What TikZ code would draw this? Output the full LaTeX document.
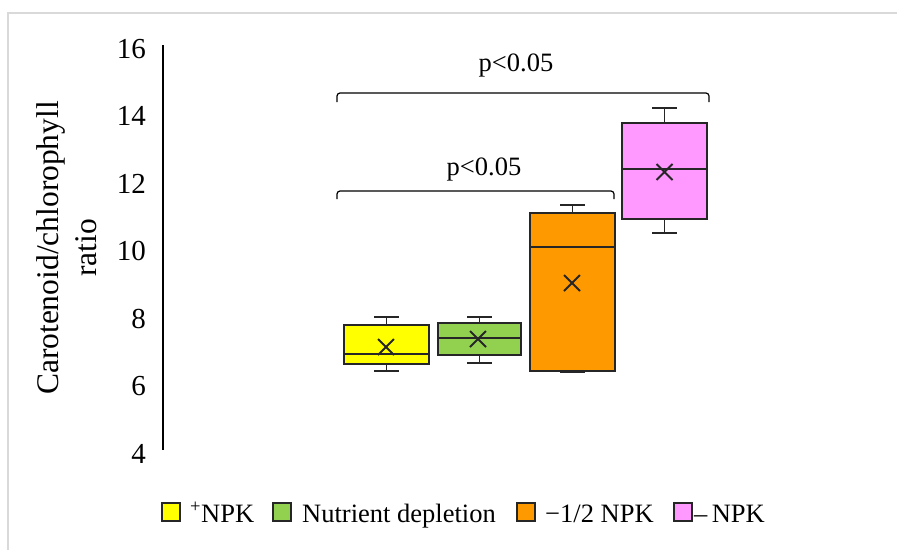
\documentclass[tikz,border=0pt]{standalone}
\usepackage{fontspec}
\setmainfont{Liberation Serif}
\definecolor{cyel}{HTML}{FFFF00}
\definecolor{cgrn}{HTML}{92D050}
\definecolor{corg}{HTML}{FF9900}
\definecolor{cpnk}{HTML}{FF99FF}
\definecolor{edge}{HTML}{262626}
\definecolor{frame}{HTML}{D9D9D9}
\begin{document}
\begin{tikzpicture}[x=1pt,y=-1pt,
  boxst/.style={draw=edge,line width=1.8pt},
  whisk/.style={draw=edge,line width=1.8pt},
  meanx/.style={draw=edge,line width=2pt},
  tick/.style={anchor=base east,inner sep=0pt,font=\fontsize{29}{34}\selectfont},
  pval/.style={anchor=base,inner sep=0pt,font=\fontsize{26.5}{31}\selectfont},
  legtxt/.style={anchor=base west,inner sep=0pt,font=\fontsize{26.5}{31}\selectfont},
  legsq/.style={draw=edge,line width=1.6pt,minimum width=18pt,minimum height=18pt,inner sep=0pt},
  brk/.style={draw=black,line width=1.2pt,rounded corners=3pt}]
\useasboundingbox (0,0) rectangle (897,550);
\fill[white] (0,0) rectangle (897,550);
\draw[frame,line width=1.5pt] (8,550) -- (8,13) -- (897,13);
% axis
\draw[black,line width=1.6pt] (163,45) -- (163,450);
\node[tick] (t16) at (146,58) {16};
\node[tick] (t14) at (146,125.5) {14};
\node[tick] (t12) at (146,193) {12};
\node[tick] (t10) at (146,260.5) {10};
\node[tick] (t8) at (146,328) {8};
\node[tick] (t6) at (146,395.5) {6};
\node[tick] (t4) at (146,463) {4};
\node[rotate=90,align=center,inner sep=0pt,font=\fontsize{31.5}{38}\selectfont] (ylab) at (67,248) {Carotenoid/chlorophyll\\ratio};
% yellow box
\draw[whisk] (386.5,325) -- (386.5,317) (374,317) -- (399,317);
\draw[whisk] (386.5,364) -- (386.5,371) (374,371) -- (399,371);
\draw[boxst,fill=cyel] (344,325) rectangle (429,364);
\draw[boxst] (344,354) -- (429,354);
\draw[meanx] (378,339) -- (394,355) (378,355) -- (394,339);
% green box
\draw[whisk] (479.5,323) -- (479.5,317) (467,317) -- (492,317);
\draw[whisk] (479.5,355) -- (479.5,363) (467,363) -- (492,363);
\draw[boxst,fill=cgrn] (438,323) rectangle (521,355);
\draw[boxst] (438,338) -- (521,338);
\draw[meanx] (470,331) -- (486,347) (470,347) -- (486,331);
% orange box
\draw[whisk] (572.5,213) -- (572.5,205) (560,205) -- (585,205);
\draw[whisk,line width=2.6pt] (560,371.5) -- (585,371.5);
\draw[boxst,fill=corg] (530,213) rectangle (615,371);
\draw[boxst] (530,247) -- (615,247);
\draw[meanx] (564,275) -- (580,291) (564,291) -- (580,275);
% pink box
\draw[whisk] (664.5,123) -- (664.5,108) (652,108) -- (677,108);
\draw[whisk] (664.5,219) -- (664.5,233) (652,233) -- (677,233);
\draw[boxst,fill=cpnk] (622,123) rectangle (707,219);
\draw[boxst] (622,169) -- (707,169);
\draw[meanx] (656.5,164) -- (672.5,180) (656.5,180) -- (672.5,164);
% brackets
\coordinate (b1a) at (337,102); \coordinate (b1b) at (709,102);
\draw[brk] (b1a) -- (337,93) -- (709,93) -- (b1b);
\coordinate (b2a) at (337,199); \coordinate (b2b) at (614,199);
\draw[brk] (b2a) -- (337,191) -- (614,191) -- (b2b);
\node[pval] (p1) at (516,71) {p<0.05};
\node[pval] (p2) at (484,175) {p<0.05};
% legend
\node[legsq,fill=cyel,anchor=south west] (l1) at (161,522) {};
\node[legtxt] (lt1) at (190,522) {\textsuperscript{+}NPK};
\node[legsq,fill=cgrn,anchor=south west] (l2) at (272,522) {};
\node[legtxt] (lt2) at (302,522) {Nutrient depletion};
\node[legsq,fill=corg,anchor=south west] (l3) at (516,522) {};
\node[legtxt] (lt3) at (545,522) {−1/2 NPK};
\node[legsq,fill=cpnk,anchor=south west] (l4) at (673,522) {};
\node[legtxt] (lt4) at (694,522) {–\,NPK};
\end{tikzpicture}
\end{document}
